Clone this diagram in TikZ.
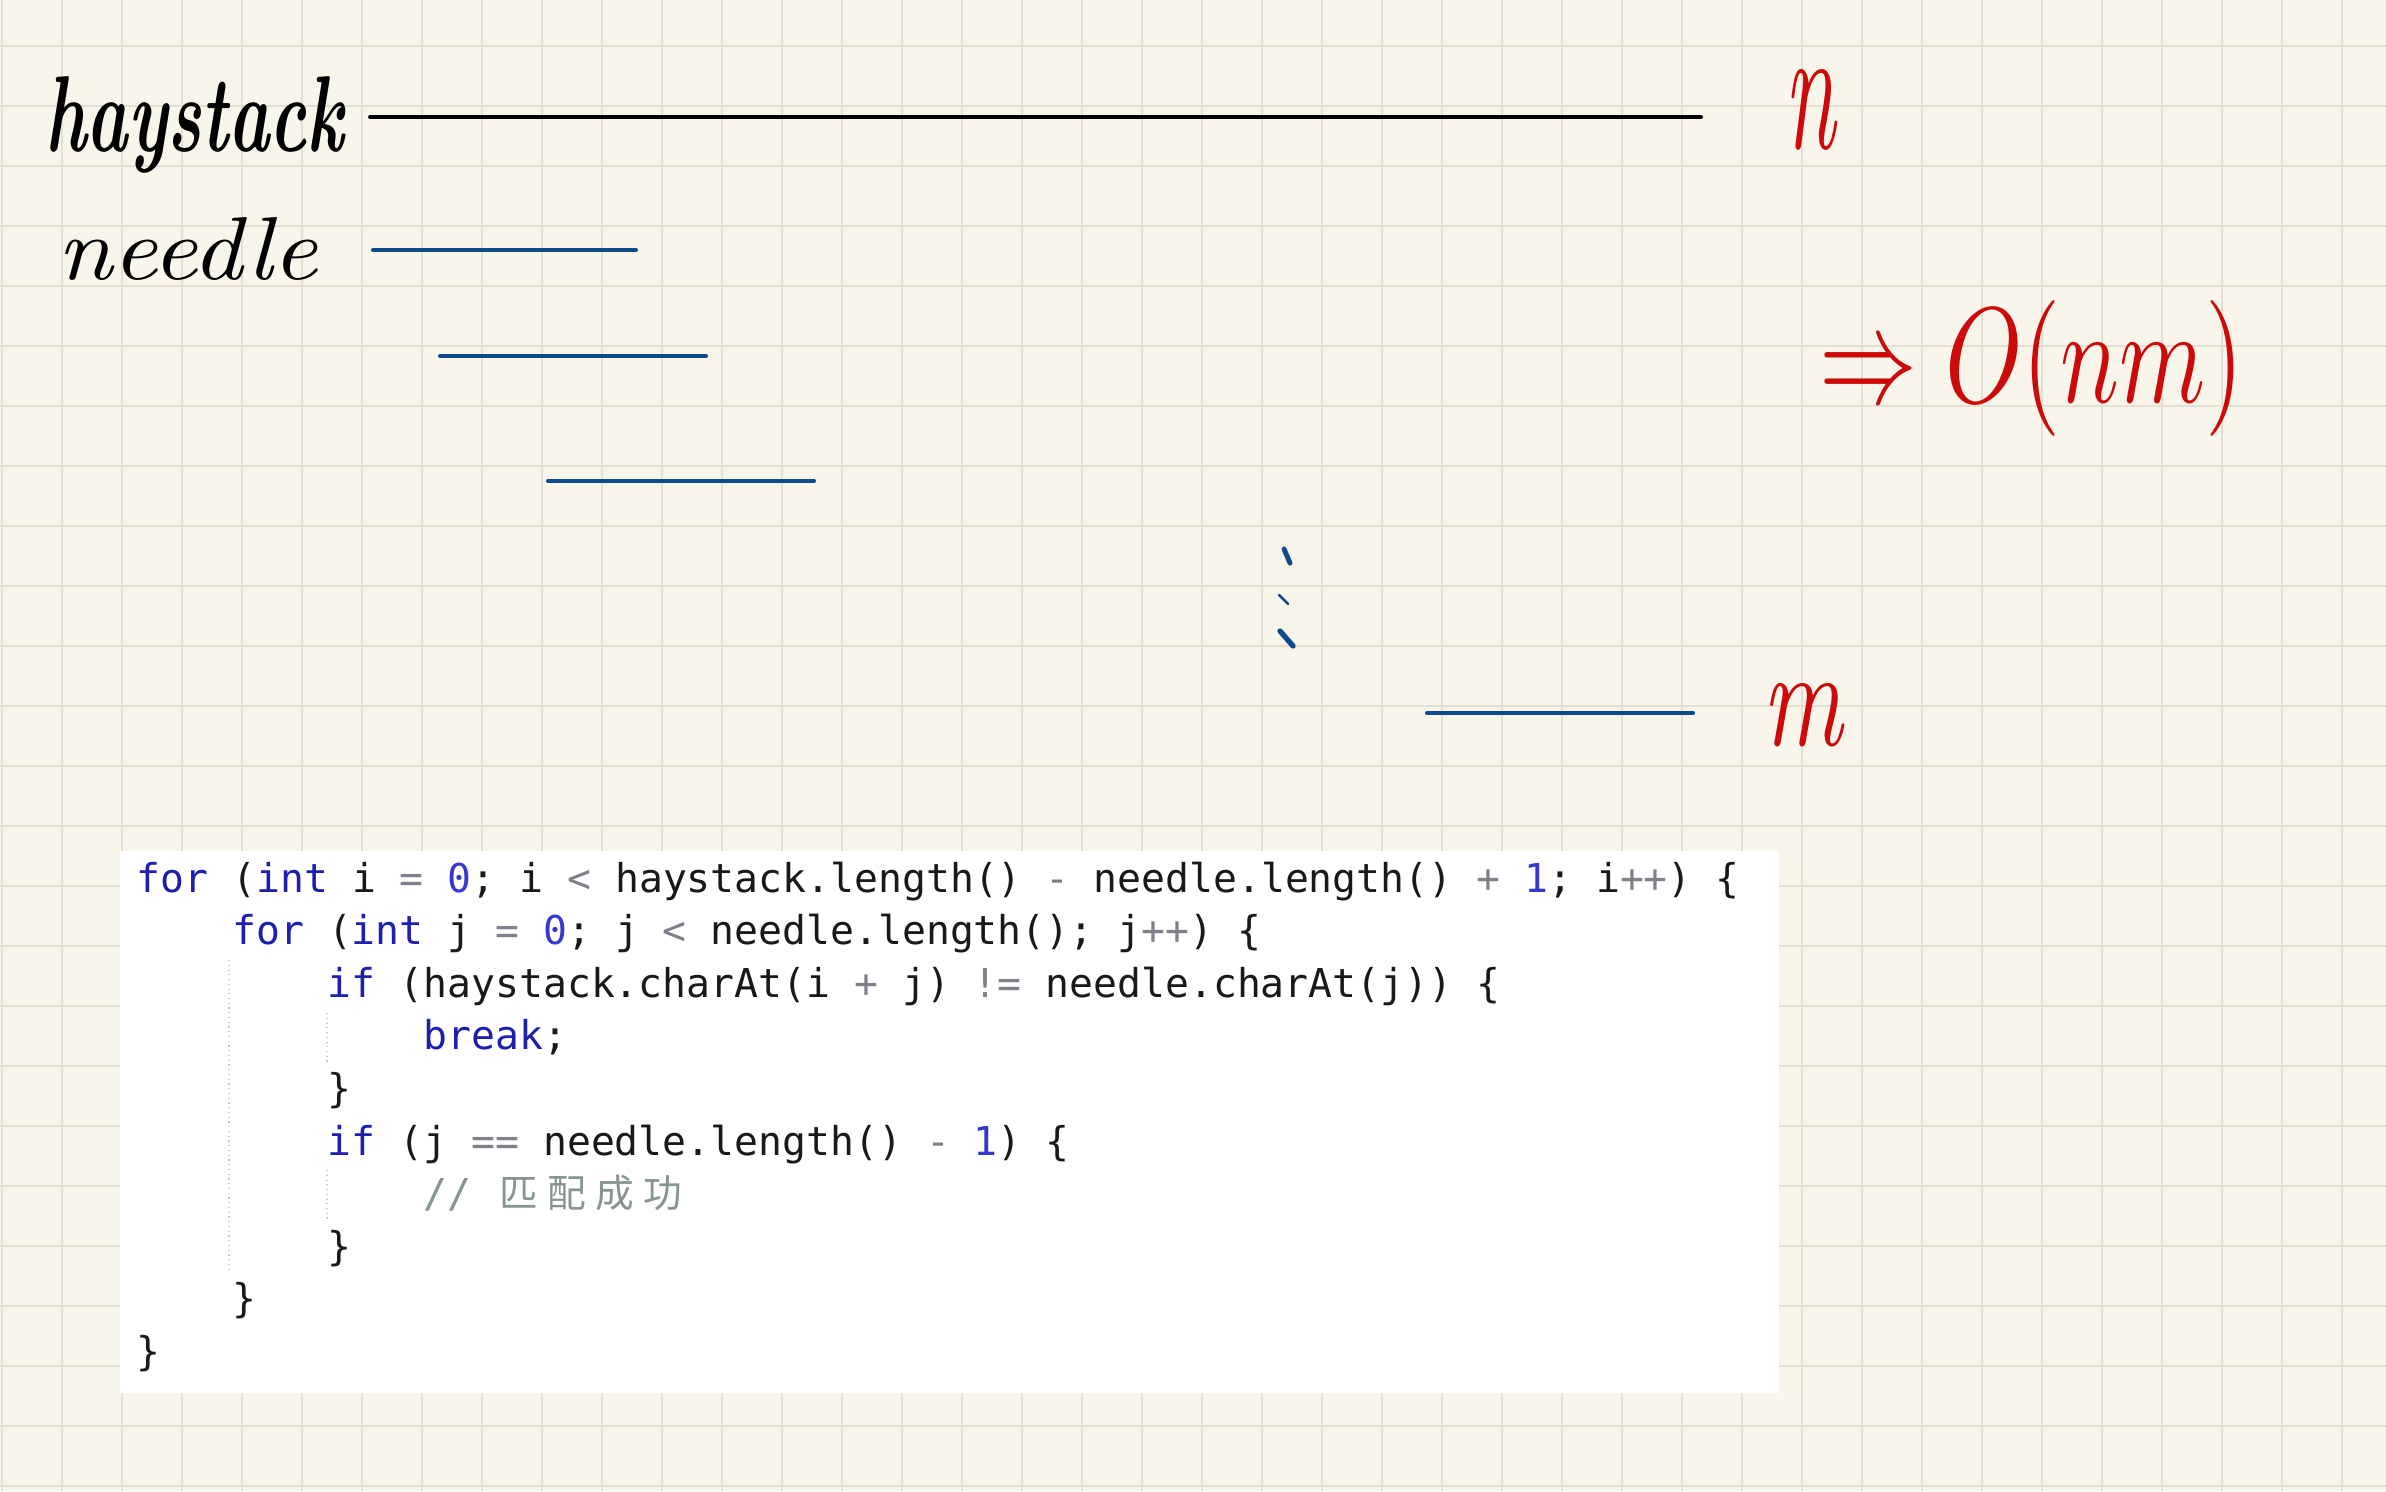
\documentclass[tikz,border=0pt]{standalone}
\usepackage{fontspec}
\usepackage{graphicx}
\newfontfamily\codefont{DejaVu Sans Mono}[WordSpace={1,0,0}]
\newfontfamily\cjkfont{Noto Sans CJK SC}
\definecolor{paper}{RGB}{248,246,235}
\definecolor{gridc}{RGB}{227,223,211}
\definecolor{inkblue}{RGB}{14,74,140}
\definecolor{inkred}{RGB}{205,10,10}
\definecolor{kwblue}{RGB}{30,30,175}
\definecolor{numblue}{RGB}{55,55,205}
\definecolor{opgray}{RGB}{128,128,138}
\definecolor{cmgray}{RGB}{135,148,148}
\definecolor{codeblack}{RGB}{25,25,25}
\definecolor{guidec}{RGB}{200,200,200}
\newcommand\ckw[1]{\textcolor{kwblue}{#1}}
\newcommand\cop[1]{\textcolor{opgray}{#1}}
\newcommand\cnum[1]{\textcolor{numblue}{#1}}
\newcommand\ccjk[1]{\makebox[13.6pt][c]{\cjkfont\fontsize{11pt}{12pt}\selectfont #1}}
\frenchspacing
\begin{document}
\begin{tikzpicture}[x=0.01cm,y=-0.01cm,
  gridline/.style={draw=gridc,line width=0.7pt},
  blueline/.style={draw=inkblue,line width=1.15pt,line cap=round},
  blackline/.style={draw=black,line width=1.1pt,line cap=round},
  codeline/.style={anchor=base west,inner sep=0pt,text=codeblack,
    font=\codefont\fontsize{11.3pt}{15pt}\selectfont},
  guide/.style={draw=guidec,line width=0.35pt,densely dotted},
  hand/.style={anchor=base west,inner sep=0pt},
  redhand/.style={anchor=base west,inner sep=0pt,text=inkred}]
\fill[paper] (0,0) rectangle (2386,1491);
\useasboundingbox (0,0) rectangle (2386,1491);
\foreach \i in {0,...,39} \draw[gridline] ({2+60*\i},0) -- ({2+60*\i},1491);
\foreach \j in {0,...,24} \draw[gridline] (0,{46+60*\j}) -- (2386,{46+60*\j});

% handwritten labels
\node[hand] (hay) at (45,152) {\resizebox{2.98cm}{0.75cm}{\bfseries\itshape haystack}};
\node[hand] (needle) at (57,279) {\resizebox{2.60cm}{0.62cm}{\itshape needle}};
\node[redhand] (nlab) at (1784,149) {\resizebox{0.51cm}{0.79cm}{\itshape n}};
\node[redhand] (mlab) at (1762,745) {\resizebox{0.80cm}{0.62cm}{\itshape m}};
\node[redhand] (onm) at (1819,402) {\resizebox{4.24cm}{1.02cm}{$\Rightarrow O(nm)$}};

% strings
\coordinate (h1) at (370,117); \coordinate (h2) at (1701,117);
\draw[blackline] (h1) -- (h2);
\coordinate (a1) at (373,250); \coordinate (a2) at (636,250);
\coordinate (b1) at (440,356); \coordinate (b2) at (706,356);
\coordinate (c1) at (548,481); \coordinate (c2) at (814,481);
\coordinate (d1) at (1427,713); \coordinate (d2) at (1693,713);
\draw[blueline] (a1) -- (a2);
\draw[blueline] (b1) -- (b2);
\draw[blueline] (c1) -- (c2);
\draw[blueline] (d1) -- (d2);
% vertical dots
\draw[draw=inkblue,line width=1.4pt,line cap=round] (1284,549) -- (1290,563);
\draw[draw=inkblue,line width=0.7pt,line cap=round] (1279,595) -- (1288,604);
\draw[draw=inkblue,line width=1.5pt,line cap=round] (1280,631) -- (1293,646);

% code box
\fill[white] (120,851) rectangle (1779,1393);
\draw[guide] (229,960) -- (229,1273);
\draw[guide] (327,1013) -- (327,1062);
\draw[guide] (327,1170) -- (327,1220);

\node[codeline] (l1) at (136,892) {\ckw{for} (\ckw{int} i \cop{=} \cnum{0}; i \cop{<} haystack.length() \cop{-} needle.length() \cop{+} \cnum{1}; i\cop{++}) \{};
\node[codeline] (l2) at ({136+4*23.9},944.6) {\ckw{for} (\ckw{int} j \cop{=} \cnum{0}; j \cop{<} needle.length(); j\cop{++}) \{};
\node[codeline] (l3) at ({136+8*23.9},997.2) {\ckw{if} (haystack.charAt(i \cop{+} j) \cop{!=} needle.charAt(j)) \{};
\node[codeline] (l4) at ({136+12*23.9},1049.8) {\ckw{break};};
\node[codeline] (l5) at ({136+8*23.9},1102.4) {\}};
\node[codeline] (l6) at ({136+8*23.9},1155) {\ckw{if} (j \cop{==} needle.length() \cop{-} \cnum{1}) \{};
\node[codeline] (l7) at ({136+12*23.9},1207.6) {\textcolor{cmgray}{// \ccjk{匹}\ccjk{配}\ccjk{成}\ccjk{功}}};
\node[codeline] (l8) at ({136+8*23.9},1260.2) {\}};
\node[codeline] (l9) at ({136+4*23.9},1312.8) {\}};
\node[codeline] (l10) at (136,1365.4) {\}};
\end{tikzpicture}
\end{document}
